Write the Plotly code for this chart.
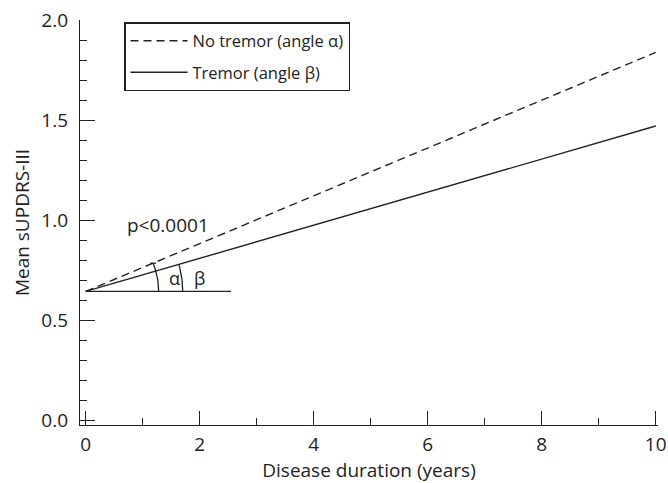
import numpy as np
import plotly.graph_objects as go

# ---- data ----
years = [0, 10]
no_tremor = [0.643, 1.838]    # mean sUPDRS-III, no tremor (angle alpha)
tremor = [0.643, 1.47]        # mean sUPDRS-III, tremor (angle beta)
ref_end_year = 2.55           # horizontal reference line end
x_ticks = [0, 2, 4, 6, 8, 10]
y_ticks = [0.0, 0.5, 1.0, 1.5, 2.0]
y_tick_text = ["0.0", "0.5", "1.0", "1.5", "2.0"]
p_text = "p<0.0001"

# ---- layout constants ----
W, H = 668, 483
ML, MR, MT, MB = 80, 10, 20, 58
XR = [-0.1, 10.04]
YR = [-0.025, 2.0]
INK = "#222222"
FONT = "Open Sans"

xpx = (W - ML - MR) / (XR[1] - XR[0])
ypx = (H - MT - MB) / (YR[1] - YR[0])

fig = go.Figure()
fig.add_trace(go.Scatter(x=years, y=no_tremor, mode="lines", name="No tremor (angle α)",
                         legendgroup="a",
                         line=dict(color=INK, width=1.4, dash="8px,5px")))
fig.add_trace(go.Scatter(x=years, y=tremor, mode="lines", name="Tremor (angle β)",
                         legendgroup="b",
                         line=dict(color=INK, width=1.4)))
fig.add_trace(go.Scatter(x=[years[0], ref_end_year], y=[tremor[0], tremor[0]], mode="lines",
                         showlegend=False, line=dict(color=INK, width=1.4), hoverinfo="skip"))

x0, y0 = years[0], tremor[0]


def arc(series, r_px):
    slope = (series[1] - series[0]) / (years[1] - years[0])
    th_end = np.arctan(slope * ypx / xpx)
    th = np.linspace(0, th_end, 30)
    return x0 + r_px * np.cos(th) / xpx, y0 + r_px * np.sin(th) / ypx


ax_, ay_ = arc(no_tremor, 73)
bx_, by_ = arc(tremor, 97)
fig.add_trace(go.Scatter(x=ax_, y=ay_, mode="lines", showlegend=False, hoverinfo="skip",
                         line=dict(color=INK, width=1.3)))
fig.add_trace(go.Scatter(x=bx_, y=by_, mode="lines", showlegend=False, hoverinfo="skip",
                         line=dict(color=INK, width=1.3)))
# small cap mark at top of alpha arc
tx, ty = ax_[-1], ay_[-1]
fig.add_trace(go.Scatter(x=[tx - 3 / xpx, tx + 3 / xpx], y=[ty, ty], mode="lines", showlegend=False,
                         hoverinfo="skip", line=dict(color=INK, width=1.3)))

fig.add_annotation(x=1.45, y=0.975, text=p_text, showarrow=False,
                   font=dict(family=FONT, size=19, color=INK))
fig.add_annotation(x=x0 + 89 / xpx, y=y0 + 13 / ypx, text="α", showarrow=False,
                   font=dict(family=FONT, size=18, color=INK))
fig.add_annotation(x=x0 + 114 / xpx, y=y0 + 13 / ypx, text="β", showarrow=False,
                   font=dict(family=FONT, size=18, color=INK))

fig.update_layout(
    width=W, height=H,
    margin=dict(l=ML, r=MR, t=MT, b=MB, autoexpand=False),
    paper_bgcolor="white", plot_bgcolor="white",
    font=dict(family=FONT, size=19, color=INK),
    showlegend=True,
    legend=dict(x=(124 - ML) / (W - ML - MR), y=1 - (22 - MT) / (H - MT - MB),
                xanchor="left", yanchor="top",
                bgcolor="white", bordercolor=INK, borderwidth=1.5,
                font=dict(family=FONT, size=16.5, color=INK),
                itemwidth=57, tracegroupgap=7),
    xaxis=dict(range=XR, tickvals=x_ticks, ticks="inside", ticklen=14, tickwidth=1.2,
               tickcolor=INK, showline=True, linecolor=INK, linewidth=1.4,
               showgrid=False, zeroline=False, automargin=False, ticklabelstandoff=2,
               ticklabeloverflow="allow",
               minor=dict(dtick=1, tick0=0, ticks="inside", ticklen=7, tickwidth=1.2, tickcolor=INK, showgrid=False),
               title=dict(text="Disease duration (years)", font=dict(size=19), standoff=4),
               tickfont=dict(size=19)),
    yaxis=dict(range=YR, tickvals=y_ticks, ticktext=y_tick_text, ticks="inside", ticklen=15,
               tickwidth=1.2, tickcolor=INK, showline=True, linecolor=INK, linewidth=1.4,
               showgrid=False, zeroline=False, automargin=False, ticklabelstandoff=7,
               ticklabeloverflow="allow",
               minor=dict(dtick=0.1, tick0=0, ticks="inside", ticklen=7, tickwidth=1.2, tickcolor=INK, showgrid=False),
               title=dict(text="Mean sUPDRS-III", font=dict(size=19), standoff=6),
               tickfont=dict(size=19)),
)

fig.write_html("out.html", config={"displayModeBar": False},
               post_script="document.body.style.margin='0px';document.body.style.overflow='hidden';")
